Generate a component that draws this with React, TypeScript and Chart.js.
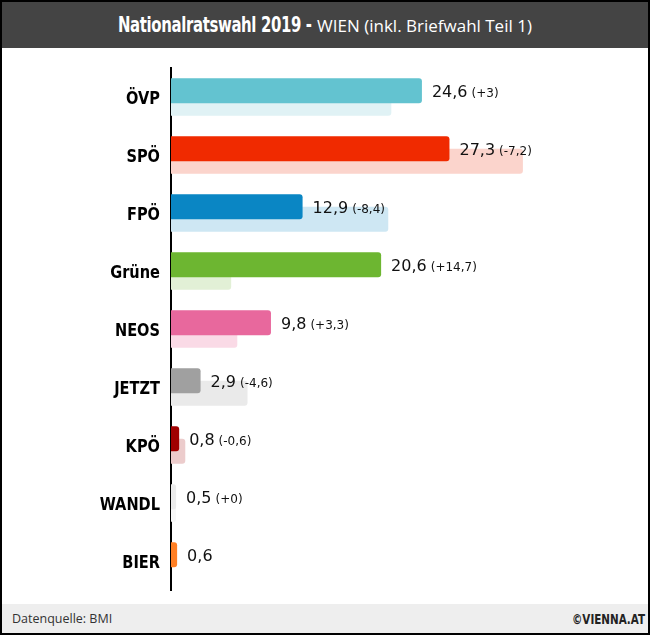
import React, { useEffect, useRef } from "react";
import { Chart, registerables } from "chart.js";

Chart.register(...registerables);

const parties = ["ÖVP", "SPÖ", "FPÖ", "Grüne", "NEOS", "JETZT", "KPÖ", "WANDL", "BIER"];
const votes2019 = [24.6, 27.3, 12.9, 20.6, 9.8, 2.9, 0.8, 0.5, 0.6];
const votes2017 = [21.6, 34.5, 21.3, 5.9, 6.5, 7.5, 1.4, 0.5, 0];
const valueLabels = ["24,6", "27,3", "12,9", "20,6", "9,8", "2,9", "0,8", "0,5", "0,6"];
const changeLabels = ["(+3)", "(-7,2)", "(-8,4)", "(+14,7)", "(+3,3)", "(-4,6)", "(-0,6)", "(+0)", ""];
const mainColors = ["#63C3D0", "#F02A00", "#0A86C4", "#6DB631", "#E8689D", "#A0A0A0", "#A00000", "#EBEBEB", "#FF7F24"];
const lightColors = ["#E0F2F5", "#FBD4CC", "#CEE7F3", "#E2F0D6", "#FADAE6", "#EAEAEA", "#ECCCCC", "#F7F7F7", "#FFE5D3"];

const heavy = "'DejaVu Sans', sans-serif";
const valueFont = "'DejaVu Sans', sans-serif";

const labelPlugin = {
  id: "valueLabels",
  afterDraw(chart: any) {
    const ctx = chart.ctx;
    const meta = chart.getDatasetMeta(0);
    const yScale = chart.scales.y;
    ctx.save();
    ctx.fillStyle = "#111";
    ctx.textBaseline = "middle";
    ctx.textAlign = "left";
    meta.data.forEach((bar: any, i: number) => {
      const x = bar.x + 10;
      const y = bar.y + 2;
      ctx.font = `16px ${valueFont}`;
      ctx.fillText(valueLabels[i], x, y);
      const w = ctx.measureText(valueLabels[i]).width;
      if (changeLabels[i]) {
        ctx.font = `12px ${valueFont}`;
        ctx.fillText(changeLabels[i], x + w + 4, y + 1);
      }
    });
    // category labels, condensed heavy
    ctx.fillStyle = "#000";
    ctx.textAlign = "right";
    ctx.textBaseline = "alphabetic";
    ctx.font = `bold 18px ${heavy}`;
    parties.forEach((p, i) => {
      const y = yScale.getPixelForValue(i);
      ctx.save();
      ctx.translate(chart.chartArea.left - 11, y + 6.5);
      ctx.scale(0.81, 1);
      ctx.fillText(p, 0, 0);
      ctx.restore();
    });
    ctx.restore();
  },
};

export default function App() {
  const ref = useRef<HTMLCanvasElement | null>(null);
  useEffect(() => {
    if (!ref.current) return;
    const chart = new Chart(ref.current, {
      type: "bar",
      data: {
        labels: parties,
        datasets: [
          {
            label: "2019",
            data: votes2019,
            backgroundColor: mainColors,
            borderRadius: 3,
            borderSkipped: "start",
            categoryPercentage: 0.431,
            barPercentage: 2,
          },
          {
            label: "2017",
            data: votes2017,
            backgroundColor: lightColors,
            borderRadius: 3,
            borderSkipped: "start",
            categoryPercentage: 0.431,
            barPercentage: 2,
          },
        ],
      },
      options: {
        indexAxis: "y",
        responsive: false,
        animation: false,
        layout: { padding: { left: 0, right: 18, top: 20, bottom: 14 } },
        plugins: { legend: { display: false }, tooltip: { enabled: false } },
        scales: {
          x: { display: false, min: 0, max: 45 },
          y: {
            z: 1,
            grid: { display: false, drawTicks: false },
            border: { display: true, color: "#000", width: 2 },
            ticks: { display: false },
            afterFit: (scale: any) => {
              scale.width = 169;
            },
          },
        },
      },
      plugins: [labelPlugin],
    } as any);
    return () => chart.destroy();
  }, []);

  return (
    <div style={{ position: "fixed", left: 0, top: 0, width: 650, height: 635, background: "#000" }}>
      <div
        style={{
          position: "absolute",
          left: 2,
          top: 2,
          width: 646,
          height: 46,
          background: "#444444",
          color: "#fff",
          display: "flex",
          alignItems: "center",
          justifyContent: "center",
          whiteSpace: "nowrap",
        }}
      >
        <span style={{ display: "inline-block", width: 192, whiteSpace: "nowrap" }}>
          <span
            style={{
              display: "inline-block",
              fontFamily: heavy,
              fontWeight: "bold",
              fontSize: 21,
              transform: "scaleX(0.71)",
              transformOrigin: "left center",
              letterSpacing: -0.5,
            }}
          >
            Nationalratswahl 2019 -
          </span>
        </span>
        <span style={{ fontFamily: "'Open Sans', sans-serif", fontSize: 17, marginLeft: 7 }}>
          WIEN (inkl. Briefwahl Teil 1)
        </span>
      </div>
      <div style={{ position: "absolute", left: 2, top: 48, width: 646, height: 556, background: "#fff" }}>
        <canvas ref={ref} width={646} height={556} style={{ display: "block" }} />
      </div>
      <div
        style={{
          position: "absolute",
          left: 2,
          top: 604,
          width: 646,
          height: 29,
          background: "#EEEEEE",
          display: "flex",
          alignItems: "center",
          justifyContent: "space-between",
          padding: "0 10px 0 10px",
          boxSizing: "border-box",
        }}
      >
        <span style={{ fontFamily: "'Open Sans', sans-serif", fontSize: 12.5, color: "#333" }}>Datenquelle: BMI</span>
        <span style={{ display: "inline-block", width: 66, whiteSpace: "nowrap" }}>
          <span
            style={{
              display: "inline-block",
              fontFamily: heavy,
              fontWeight: "bold",
              fontSize: 14,
              color: "#222",
              transform: "scaleX(0.74)",
              transformOrigin: "left center",
            }}
          >
            ©VIENNA.AT
          </span>
        </span>
      </div>
    </div>
  );
}
